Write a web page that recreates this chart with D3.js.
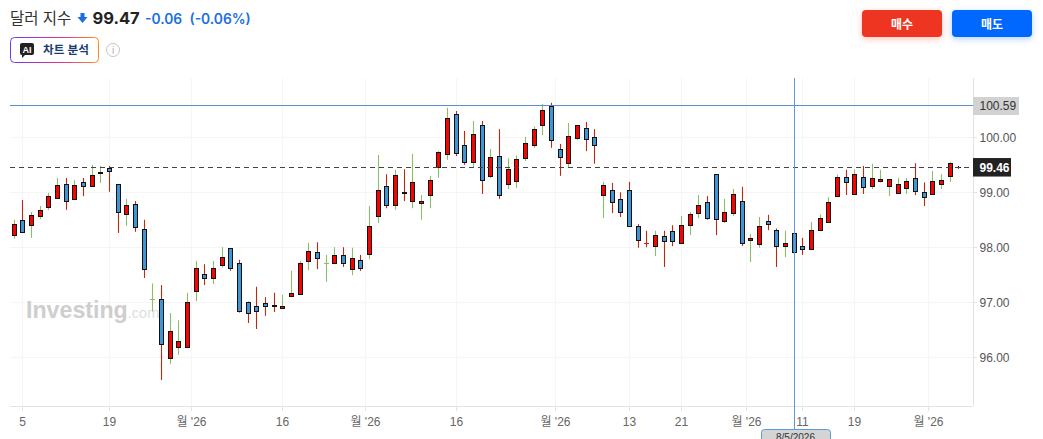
<!DOCTYPE html>
<html lang="ko">
<head>
<meta charset="utf-8">
<title>달러 지수</title>
<script src="https://cdn.jsdelivr.net/npm/d3@7"></script>
<style>
  html, body { margin: 0; padding: 0; background: #fff; overflow: hidden; }
  svg { display: block; }
  text { font-family: "Liberation Sans", "Noto Sans CJK KR", sans-serif; }
  text.quote { font-family: Inter, "Liberation Sans", sans-serif; }
</style>
</head>
<body>
<svg id="chart" width="1043" height="439"></svg>
<script>
// Daily dollar index candles
const opens = [98.23,98.49,98.41,98.57,98.74,98.90,99.16,98.88,99.18,99.12,99.36,99.44,99.15,98.61,98.78,98.33,97.05,97.05,95.98,96.18,96.18,97.20,97.52,97.43,97.67,97.98,97.71,97.01,96.92,96.98,96.94,96.89,97.12,97.14,97.74,97.91,97.71,97.71,97.85,97.60,97.76,97.87,98.56,99.11,98.76,99.01,98.85,98.80,98.95,99.46,99.69,100.42,99.86,99.55,100.22,99.29,99.67,99.15,99.20,99.62,99.86,100.22,100.57,99.78,99.53,99.98,100.17,100.00,98.95,99.05,98.87,99.05,98.38,98.07,98.02,98.20,98.29,98.07,98.40,98.62,98.82,99.33,98.47,98.62,98.85,98.13,98.05,98.47,98.31,98.03,98.25,98.03,97.96,98.31,98.45,98.93,99.27,98.96,99.27,99.11,99.20,99.11,98.98,99.07,99.26,99.00,98.96,99.16,99.29,99.46];
const closes = [98.42,98.27,98.58,98.67,98.93,99.13,98.85,99.13,99.12,99.31,99.37,99.38,98.64,98.76,98.36,97.60,97.052,96.23,96.47,96.29,97.00,97.63,97.44,97.63,97.82,97.63,96.83,96.81,96.83,96.93,96.92,96.92,97.16,97.71,97.93,97.80,97.712,97.85,97.71,97.80,97.62,98.38,99.05,98.76,99.31,98.99,99.18,98.84,99.22,99.73,100.35,99.71,99.56,100.07,99.22,99.64,98.95,99.42,99.60,99.89,100.15,100.49,99.95,99.64,100.02,100.22,99.97,99.86,99.13,98.82,98.65,98.38,98.13,98.068,98.22,98.11,98.11,98.40,98.60,98.76,98.53,98.51,98.64,98.96,98.07,98.16,98.38,98.43,98.02,98.07,97.91,97.96,98.31,98.53,98.82,99.27,99.18,99.33,99.09,99.26,99.24,99.24,99.16,99.20,99.02,98.91,99.20,99.22,99.53,99.46];
const highs = [98.50,98.86,98.64,98.75,98.99,99.26,99.26,99.22,99.26,99.50,99.48,99.48,99.15,98.88,98.84,98.50,97.34,97.31,96.80,96.67,97.17,97.75,97.69,97.75,98.00,97.98,97.77,97.01,97.28,97.09,97.17,97.13,97.57,97.75,98.08,98.09,97.86,98.00,98.00,97.99,97.86,98.75,99.68,99.33,99.41,99.42,99.70,98.95,99.30,99.75,100.54,100.48,100.12,100.30,100.30,99.79,100.15,99.62,99.67,100.01,100.20,100.61,100.63,99.88,100.26,100.22,100.28,100.15,99.19,99.17,99.00,99.19,98.42,98.30,98.30,98.30,98.40,98.57,98.64,98.95,98.93,99.33,98.88,99.06,99.10,98.24,98.55,98.59,98.34,98.30,98.26,98.17,98.46,98.60,98.91,99.32,99.41,99.42,99.48,99.52,99.41,99.24,99.26,99.26,99.53,99.18,99.39,99.33,99.55,99.48];
const lows = [98.155,98.27,98.17,98.51,98.68,98.90,98.68,98.87,98.93,99.11,99.17,99.01,98.26,98.39,98.28,97.44,96.83,95.58,95.87,96.04,96.18,97.02,97.31,97.33,97.63,97.57,96.81,96.62,96.51,96.75,96.82,96.89,97.09,97.14,97.58,97.60,97.37,97.69,97.64,97.49,97.57,97.78,98.44,98.71,98.68,98.84,98.71,98.50,98.71,99.26,99.59,99.66,99.50,99.46,98.97,99.26,98.88,99.06,99.08,99.57,99.81,100.04,99.81,99.30,99.46,99.95,99.75,99.52,98.53,98.62,98.55,98.38,97.99,98.00,97.84,97.64,98.02,98.07,98.22,98.53,98.50,98.22,98.44,98.57,98.02,97.73,97.99,98.31,97.64,97.82,97.88,97.86,97.96,98.29,98.44,98.93,98.95,98.96,98.97,99.06,99.18,98.93,98.98,98.97,98.95,98.75,98.95,99.06,99.19,99.43];

// Tick labels on both axes
const priceTicks = [96, 97, 98, 99, 100];
const timeTickSlots = [1, 11, 20.5, 31, 40.5, 51, 62.5, 71, 77, 84.5, 91, 97, 105.5];
const timeTickLabels = ["5", "19", "월 '26", "16", "월 '26", "16", "월 '26", "13", "21", "월 '26", "11", "19", "월 '26"];

// Reference levels and crosshair
const lastPrice = 99.46;
const markerPrice = 100.59;
const crosshairSlot = 90;
const crosshairDate = "8/5/2026";

const plot = { left: 10, right: 973, top: 78, bottom: 406 };

const x = d3.scaleLinear().domain([0, 109]).range([14, 14 + 109 * 26 / 3]);
const y = d3.scaleLinear().domain([96, 100]).range([357, 137.4]);
const col = i => Math.floor(x(i) + 1e-6) + 0.5;
const row = v => Math.round(y(v)) + 0.5;

const svg = d3.select("#chart");
const defs = svg.append("defs");

// Gradient outline of the AI button
const grad = defs.append("linearGradient").attr("id", "aiBorder").attr("x1", "0").attr("x2", "1").attr("y1", "0").attr("y2", "0");
grad.append("stop").attr("offset", "0").attr("stop-color", "#6a3df0");
grad.append("stop").attr("offset", "0.55").attr("stop-color", "#d6339a");
grad.append("stop").attr("offset", "1").attr("stop-color", "#ff8a1e");

// Soft shadows under the two order buttons
[["shadowRed", "#ee3524"], ["shadowBlue", "#0068ff"]].forEach(([id, c]) => {
  defs.append("filter").attr("id", id).attr("x", "-20%").attr("y", "-40%").attr("width", "140%").attr("height", "200%")
    .append("feDropShadow").attr("dx", 0).attr("dy", 2).attr("stdDeviation", 3).attr("flood-color", c).attr("flood-opacity", 0.3);
});

/* ---------- header ---------- */
const header = svg.append("g");
header.append("text").attr("x", 10).attr("y", 24).attr("font-size", 15.5).attr("fill", "#333").text("달러 지수");
header.append("path").attr("d", "M80.5 13h4v4h3l-5 6-5-6h3z").attr("fill", "#1a6fe0");
header.append("text").attr("class", "quote").attr("x", 92.5).attr("y", 24).attr("font-size", 16.5).attr("font-weight", 700).attr("fill", "#222").text("99.47");
header.append("text").attr("class", "quote").attr("x", 145).attr("y", 24).attr("font-size", 13.8).attr("font-weight", 600).attr("fill", "#1a6fe0").text("-0.06");
header.append("text").attr("class", "quote").attr("x", 189.5).attr("y", 24).attr("font-size", 13.8).attr("font-weight", 600).attr("fill", "#1a6fe0").text("(-0.06%)");

header.append("rect").attr("x", 10.5).attr("y", 37.5).attr("width", 88).attr("height", 25).attr("rx", 4)
  .attr("fill", "#fff").attr("stroke", "url(#aiBorder)");
header.append("path").attr("d", "M22 43h10a2 2 0 0 1 2 2v8a2 2 0 0 1-2 2h-7l-3 3v-3a2 2 0 0 1-2-2v-8a2 2 0 0 1 2-2z").attr("fill", "#222");
header.append("text").attr("x", 27).attr("y", 53).attr("text-anchor", "middle").attr("font-size", 9).attr("font-weight", 700).attr("fill", "#fff").text("AI");
header.append("text").attr("x", 43).attr("y", 54).attr("font-size", 11.6).attr("font-weight", 700).attr("fill", "#1b3c73").text("차트 분석");
header.append("circle").attr("cx", 113).attr("cy", 50).attr("r", 6.5).attr("fill", "none").attr("stroke", "#c4c4c4");
header.append("text").attr("x", 113).attr("y", 54).attr("text-anchor", "middle").attr("font-size", 10).attr("fill", "#b0b0b0").text("i");

[["매수", 862, "#ee3524", "shadowRed"], ["매도", 952, "#0068ff", "shadowBlue"]].forEach(([label, bx, fill, shadow]) => {
  header.append("rect").attr("x", bx).attr("y", 10).attr("width", 80).attr("height", 27).attr("rx", 4)
    .attr("fill", fill).attr("filter", `url(#${shadow})`);
  header.append("text").attr("x", bx + 40).attr("y", 28.5).attr("text-anchor", "middle").attr("font-size", 12).attr("font-weight", 700).attr("fill", "#fff").text(label);
});

/* ---------- grid and watermark ---------- */
const grid = svg.append("g").attr("stroke", "#f5f5f6");
grid.selectAll("line.h").data(priceTicks).join("line").attr("class", "h")
  .attr("x1", plot.left).attr("x2", plot.right).attr("y1", row).attr("y2", row);
grid.selectAll("line.v").data(timeTickSlots).join("line").attr("class", "v")
  .attr("x1", col).attr("x2", col).attr("y1", plot.top).attr("y2", plot.bottom);

const mark = svg.append("text").attr("x", 26).attr("y", 318).attr("font-size", 23.2).attr("font-weight", 700).attr("fill", "#cecece");
mark.append("tspan").text("Investing");
mark.append("tspan").attr("font-size", 14.5).attr("font-weight", 400).attr("fill", "#dedede").text(".com");

/* ---------- axes ---------- */
const axisColor = "#e1e3e8";
const xG = svg.append("g");
xG.append("line").attr("x1", plot.left).attr("x2", plot.right).attr("y1", plot.bottom + 0.5).attr("y2", plot.bottom + 0.5).attr("stroke", axisColor);
xG.append("line").attr("x1", plot.right + 0.5).attr("x2", plot.right + 0.5).attr("y1", plot.top).attr("y2", plot.bottom).attr("stroke", axisColor);
const xTicks = xG.selectAll("g.t").data(timeTickSlots).join("g").attr("class", "t").attr("transform", d => `translate(${col(d)},${plot.bottom})`);
xTicks.append("line").attr("y2", 5).attr("stroke", axisColor);
xTicks.append("text").attr("y", 20).attr("text-anchor", "middle").attr("font-size", 12).attr("fill", "#666")
  .text((d, i) => timeTickLabels[i]);

const yTicks = svg.append("g").selectAll("g").data(priceTicks).join("g").attr("transform", d => `translate(${plot.right},${row(d)})`);
yTicks.append("line").attr("x2", 4).attr("stroke", axisColor);
yTicks.append("text").attr("x", 6.5).attr("dy", "0.36em").attr("font-size", 12).attr("fill", "#555")
  .text(d => d.toFixed(2));

/* ---------- candles ---------- */
const candles = opens.map((o, i) => ({ i, o, c: closes[i], h: highs[i], l: lows[i] }));
const GREEN = "#8dbd6b", RUST = "#b92c0d";
const wickColor = d => d.o === d.c ? "#111" : d.c > d.o ? GREEN : RUST;
const isFlat = d => Math.abs(d.c - d.o) < 0.005;

const gCandles = svg.append("g");
gCandles.selectAll("line.wick").data(candles).join("line").attr("class", "wick")
  .attr("x1", d => col(d.i)).attr("x2", d => col(d.i))
  .attr("y1", d => y(d.h)).attr("y2", d => y(d.l))
  .attr("stroke", wickColor).attr("stroke-width", 1.1);

gCandles.selectAll("line.flat").data(candles.filter(isFlat)).join("line").attr("class", "flat")
  .attr("x1", d => col(d.i) - 2.5).attr("x2", d => col(d.i) + 2.5)
  .attr("y1", d => row(d.c)).attr("y2", d => row(d.c))
  .attr("stroke", wickColor);

gCandles.selectAll("rect.body").data(candles.filter(d => !isFlat(d))).join("rect").attr("class", "body")
  .attr("x", d => col(d.i) - 2)
  .attr("width", 4)
  .attr("y", d => row(Math.max(d.o, d.c)))
  .attr("height", d => Math.max(1, row(Math.min(d.o, d.c)) - row(Math.max(d.o, d.c))))
  .attr("fill", d => d.c > d.o ? "#ff0000" : "#4095d4")
  .attr("stroke", "#111").attr("stroke-width", 1);

/* ---------- reference lines ---------- */
svg.append("line").attr("x1", plot.left).attr("x2", plot.right).attr("y1", row(markerPrice)).attr("y2", row(markerPrice))
  .attr("stroke", "#5b8fc7");
svg.append("line").attr("x1", plot.left).attr("x2", plot.right).attr("y1", row(lastPrice)).attr("y2", row(lastPrice))
  .attr("stroke", "#444").attr("stroke-dasharray", "5,4");
svg.append("line").attr("x1", col(crosshairSlot)).attr("x2", col(crosshairSlot)).attr("y1", plot.top).attr("y2", 430)
  .attr("stroke", "#5b9bd5");

/* ---------- price and date badges ---------- */
svg.append("rect").attr("x", 973).attr("y", y(markerPrice) - 8).attr("width", 46).attr("height", 18).attr("fill", "#d2d2d2");
svg.append("text").attr("x", 979.5).attr("y", y(markerPrice)).attr("dy", "0.42em").attr("font-size", 12).attr("fill", "#333").text(markerPrice.toFixed(2));
svg.append("rect").attr("x", 973).attr("y", y(lastPrice) - 9).attr("width", 38).attr("height", 18.5).attr("fill", "#222");
svg.append("text").attr("x", 979.5).attr("y", y(lastPrice)).attr("dy", "0.38em").attr("font-size", 12).attr("font-weight", 700).attr("fill", "#fff").text(lastPrice.toFixed(2));

svg.append("rect").attr("x", 761.5).attr("y", 429.5).attr("width", 69).attr("height", 18).attr("rx", 3)
  .attr("fill", "#d4d4d4").attr("stroke", "#5b9bd5");
svg.append("text").attr("x", 795.5).attr("y", 441).attr("text-anchor", "middle").attr("font-size", 10).attr("fill", "#333").text(crosshairDate);
</script>
</body>
</html>
